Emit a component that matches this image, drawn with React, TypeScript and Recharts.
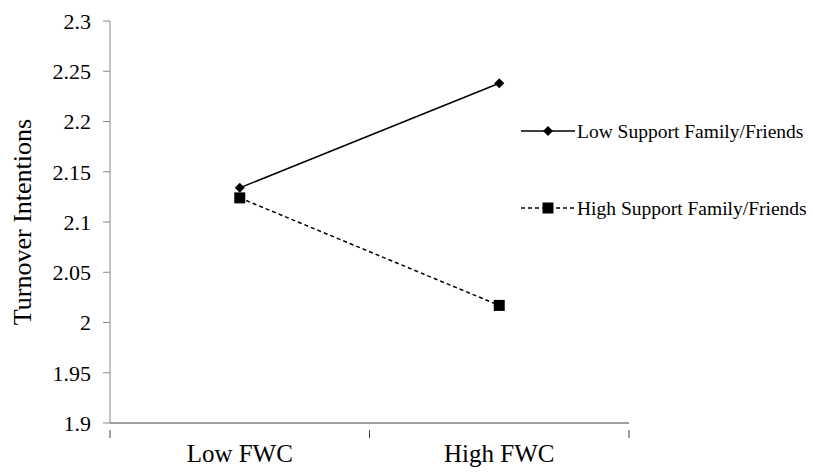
import { Line, LineChart, XAxis, YAxis } from "recharts";

const categories = ["Low FWC", "High FWC"];
const lowSupport = [2.134, 2.238];
const highSupport = [2.124, 2.017];
const yTicks = [1.9, 1.95, 2, 2.05, 2.1, 2.15, 2.2, 2.25, 2.3];

const rows = categories.map((name, i) => ({
  name,
  low: lowSupport[i],
  high: highSupport[i],
}));

const FONT = "'Liberation Serif', 'Times New Roman', serif";

function Diamond({ cx, cy, r = 5 }: any) {
  if (cx == null || cy == null) return null;
  return (
    <polygon
      points={`${cx},${cy - r} ${cx + r},${cy} ${cx},${cy + r} ${cx - r},${cy}`}
      fill="#000"
    />
  );
}

function Square({ cx, cy, s = 11 }: any) {
  if (cx == null || cy == null) return null;
  return <rect x={cx - s / 2} y={cy - s / 2} width={s} height={s} fill="#000" />;
}

function XTick({ x, y, payload }: any) {
  const off = payload?.offset ?? 129.75;
  return (
    <g>
      <line x1={x - off} y1={y - 1} x2={x - off} y2={y + 7} stroke="#404040" />
      <line x1={x + off} y1={y - 1} x2={x + off} y2={y + 7} stroke="#404040" />
      <text
        x={x}
        y={y + 31}
        textAnchor="middle"
        fontFamily={FONT}
        fontSize={25}
        fill="#000"
      >
        {payload.value}
      </text>
    </g>
  );
}

function LegendBox() {
  const items = [
    { label: "Low Support Family/Friends", dashed: false, y: 12 },
    { label: "High Support Family/Friends", dashed: true, y: 89 },
  ];
  return (
    <svg width={292} height={110} style={{ position: "absolute", left: 521, top: 119 }}>
      {items.map((it) => (
        <g key={it.label}>
          <line
            x1={0}
            y1={it.y}
            x2={54}
            y2={it.y}
            stroke="#000"
            strokeWidth={1.5}
            strokeDasharray={it.dashed ? "4 3" : undefined}
          />
          {it.dashed ? <Square cx={27} cy={it.y} s={11} /> : <Diamond cx={27} cy={it.y} r={5} />}
          <text x={56} y={it.y + 7} fontFamily={FONT} fontSize={19.5} fill="#000">
            {it.label}
          </text>
        </g>
      ))}
    </svg>
  );
}

export default function App() {
  return (
    <div style={{ position: "absolute", left: 0, top: 0, width: 813, height: 473, background: "#fff" }}>
      <LineChart
        width={813}
        height={473}
        data={rows}
        margin={{ top: 21, right: 184, left: 0, bottom: 0 }}
      >
        <XAxis
          dataKey="name"
          scale="band"
          height={50}
          stroke="#404040"
          tickLine={false}
          tick={<XTick />}
          interval={0}
        />
        <YAxis
          width={110}
          domain={[1.9, 2.3]}
          ticks={yTicks}
          stroke="#888"
          tickSize={7}
          tickMargin={12}
          tick={{ fontFamily: FONT, fontSize: 22, fill: "#000" }}
          label={{
            value: "Turnover Intentions",
            angle: -90,
            position: "insideLeft",
            offset: 22,
            style: { fontFamily: FONT, fontSize: 26, fill: "#000", textAnchor: "middle" },
          }}
        />
        <Line
          dataKey="low"
          stroke="#000"
          strokeWidth={1.5}
          dot={<Diamond r={5} />}
          activeDot={false}
          isAnimationActive={false}
        />
        <Line
          dataKey="high"
          stroke="#000"
          strokeWidth={1.5}
          strokeDasharray="4 3"
          dot={<Square s={11} />}
          activeDot={false}
          isAnimationActive={false}
        />
      </LineChart>
      <LegendBox />
    </div>
  );
}
